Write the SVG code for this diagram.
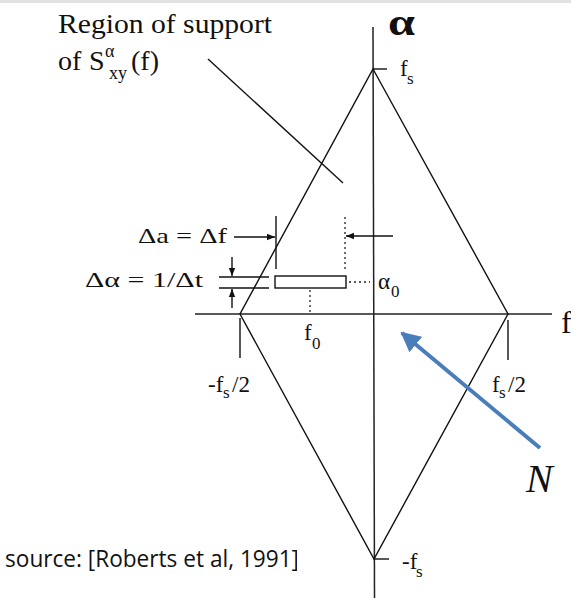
<svg xmlns="http://www.w3.org/2000/svg" width="571" height="598" viewBox="0 0 571 598">
<style>
.ln{stroke:#111;stroke-width:1.4;fill:none}
.ax{stroke:#222;stroke-width:1.5;fill:none}
.dot{stroke:#222;stroke-width:1.3;stroke-dasharray:2 3;fill:none}
.t{font-family:"Liberation Serif","Times New Roman",serif;fill:#111}
</style>
<defs>
<marker id="ah" viewBox="0 0 10 10" refX="10" refY="5" markerWidth="10" markerHeight="8" markerUnits="userSpaceOnUse" orient="auto">
<path d="M0,1 L10,5 L0,9 z" fill="#111"/>
</marker>
<marker id="bh" viewBox="0 0 10 10" refX="9" refY="5" markerWidth="5" markerHeight="5" orient="auto">
<path d="M0,0 L10,5 L0,10 z" fill="#4a7ebb"/>
</marker>
<clipPath id="cp"><rect x="0" y="0" width="297" height="598"/></clipPath>
</defs>
<rect x="0" y="0" width="571" height="598" fill="#fff"/>
<rect x="0" y="0" width="571" height="3" fill="#e2e2e2"/>

<g id="axes">
<line class="ax" x1="373" y1="27" x2="374.5" y2="598"/>
<line class="ax" x1="195" y1="314" x2="552" y2="314" stroke="#444"/>
<line class="ln" x1="373" y1="69" x2="387" y2="69"/>
<line class="ln" x1="374" y1="559" x2="389" y2="559"/>
<line class="ln" x1="240" y1="318" x2="240" y2="358" stroke-width="1"/>
<line class="ln" x1="508" y1="320" x2="508" y2="360" stroke-width="1"/>
</g>

<g id="diamond">
<polygon class="ln" points="373,69 508,314 374,559 240,314"/>
</g>

<g id="cell">
<rect class="ln" x="275" y="276" width="71" height="12"/>
<line class="dot" x1="310" y1="290" x2="310" y2="313"/>
<line class="dot" x1="349" y1="282" x2="370" y2="282"/>
<line class="ln" x1="276" y1="216" x2="276" y2="269"/>
<line class="dot" x1="345" y1="217" x2="345" y2="270" stroke-dasharray="4 1"/>
<line class="ln" x1="219" y1="277" x2="269" y2="277"/>
<line class="ln" x1="219" y1="288" x2="269" y2="288"/>
<line class="ln" x1="232" y1="257" x2="232" y2="276" marker-end="url(#ah)"/>
<line class="ln" x1="232" y1="308" x2="232" y2="289" marker-end="url(#ah)"/>
<line class="ln" x1="234" y1="237" x2="275" y2="237" marker-end="url(#ah)"/>
<line class="ln" x1="393" y1="236" x2="346" y2="236" marker-end="url(#ah)"/>
</g>

<g id="connectors">
<line class="ln" x1="208" y1="59" x2="343" y2="183"/>
<line x1="540" y1="448" x2="402" y2="333" stroke="#4a7ebb" stroke-width="4" marker-end="url(#bh)"/>
</g>

<g id="labels">
<text class="t" x="58" y="33" font-size="28" textLength="214" lengthAdjust="spacingAndGlyphs">Region of support</text>
<text class="t" x="58" y="70" font-size="28">of <tspan x="89">S</tspan></text>
<text class="t" x="105" y="57" font-size="18">α</text>
<text class="t" x="109" y="79" font-size="18">xy</text>
<text class="t" x="131" y="70" font-size="28">(f)</text>

<text class="t" x="388" y="35" font-size="37" font-weight="bold" textLength="27" lengthAdjust="spacingAndGlyphs">α</text>
<text class="t" x="400" y="76" font-size="23">f</text>
<text class="t" x="407" y="84" font-size="17">s</text>

<text class="t" x="561" y="333" font-size="32">f</text>

<text class="t" x="138" y="243" font-size="22" textLength="89" lengthAdjust="spacingAndGlyphs">Δa = Δf</text>
<text class="t" x="85" y="287" font-size="22" textLength="118" lengthAdjust="spacingAndGlyphs">Δα = 1/Δt</text>
<text class="t" x="378" y="289" font-size="23">α</text>
<text class="t" x="391" y="297" font-size="17">0</text>

<text class="t" x="304" y="340" font-size="23">f</text>
<text class="t" x="312" y="349" font-size="17">0</text>

<text class="t" x="208" y="392" font-size="23">-f</text>
<text class="t" x="223" y="398" font-size="17">s</text>
<text class="t" x="232" y="392" font-size="23">/2</text>

<text class="t" x="492" y="392" font-size="23">f</text>
<text class="t" x="499" y="398" font-size="17">s</text>
<text class="t" x="508" y="392" font-size="23">/2</text>

<text class="t" x="402" y="569" font-size="23">-f</text>
<text class="t" x="416" y="577" font-size="17">s</text>

<text x="526" y="492" font-family="Liberation Serif, serif" font-style="italic" font-size="40" fill="#111">N</text>

<text x="5" y="567" font-family="Open Sans, Liberation Sans, sans-serif" font-size="23" fill="#111" textLength="294" lengthAdjust="spacingAndGlyphs" clip-path="url(#cp)">source: [Roberts et al, 1991]</text>
</g>
</svg>
